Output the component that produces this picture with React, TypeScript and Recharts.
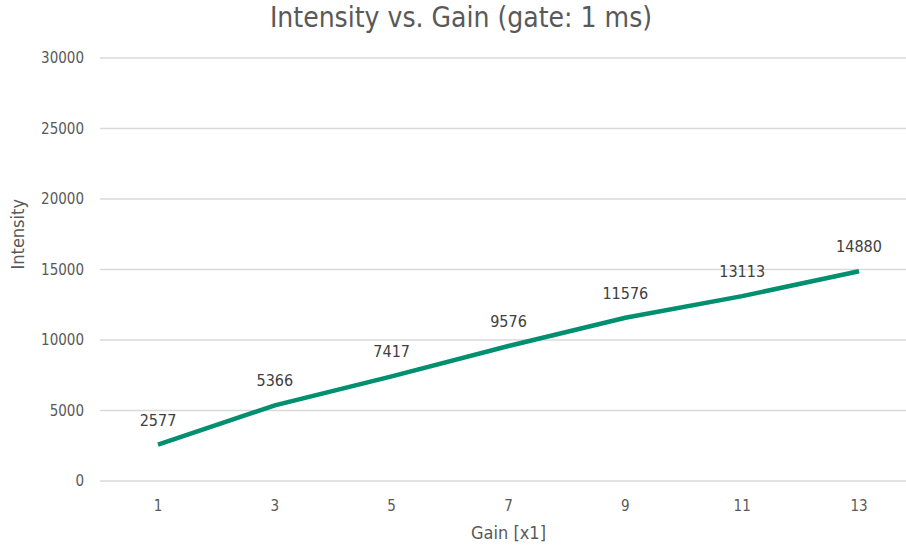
import React from 'react';
import { LineChart, Line, XAxis, YAxis, CartesianGrid, LabelList } from 'recharts';

const gains = ['1', '3', '5', '7', '9', '11', '13'];
const intensity = [2577, 5366, 7417, 9576, 11576, 13113, 14880];
const yTicks = [0, 5000, 10000, 15000, 20000, 25000, 30000];

const data = gains.map((gain, i) => ({ gain, intensity: intensity[i] }));

const FONT = '"DejaVu Sans Condensed", "DejaVu Sans", sans-serif';
const LINE_COLOR = '#008f6f';

export default function App() {
  return (
    <div
      style={{
        position: 'fixed',
        left: 0,
        top: 0,
        width: 906,
        height: 548,
        overflow: 'hidden',
        background: '#ffffff',
        fontFamily: FONT,
      }}
    >
      <div
        style={{
          position: 'absolute',
          top: 1,
          left: 8,
          width: 906,
          textAlign: 'center',
          fontSize: 28,
          color: '#595959',
        }}
      >
        Intensity vs. Gain (gate: 1 ms)
      </div>
      <LineChart
        width={930}
        height={548}
        data={data}
        margin={{ top: 58, right: 13, bottom: 0, left: 0 }}
        style={{ fontFamily: FONT }}
      >
        <CartesianGrid vertical={false} stroke="#d9d9d9" strokeWidth={1.3} />
        <XAxis
          dataKey="gain"
          height={67}
          padding={{ left: 58, right: 58 }}
          tickLine={false}
          axisLine={false}
          tick={{ fill: '#595959', fontSize: 15 }}
          tickMargin={13}
          label={{ value: 'Gain [x1]', position: 'insideBottom', offset: 9, fill: '#595959', fontSize: 18 }}
        />
        <YAxis
          width={100}
          domain={[0, 30000]}
          ticks={yTicks}
          tickLine={false}
          axisLine={false}
          tick={{ fill: '#595959', fontSize: 15 }}
          tickMargin={10}
          label={{ value: 'Intensity', angle: -90, position: 'insideLeft', offset: 18, fill: '#595959', fontSize: 18 }}
        />
        <Line
          type="linear"
          dataKey="intensity"
          stroke={LINE_COLOR}
          strokeWidth={4.5}
          dot={false}
          isAnimationActive={false}
        >
          <LabelList dataKey="intensity" position="top" offset={19} fill="#404040" fontSize={16} />
        </Line>
      </LineChart>
    </div>
  );
}
